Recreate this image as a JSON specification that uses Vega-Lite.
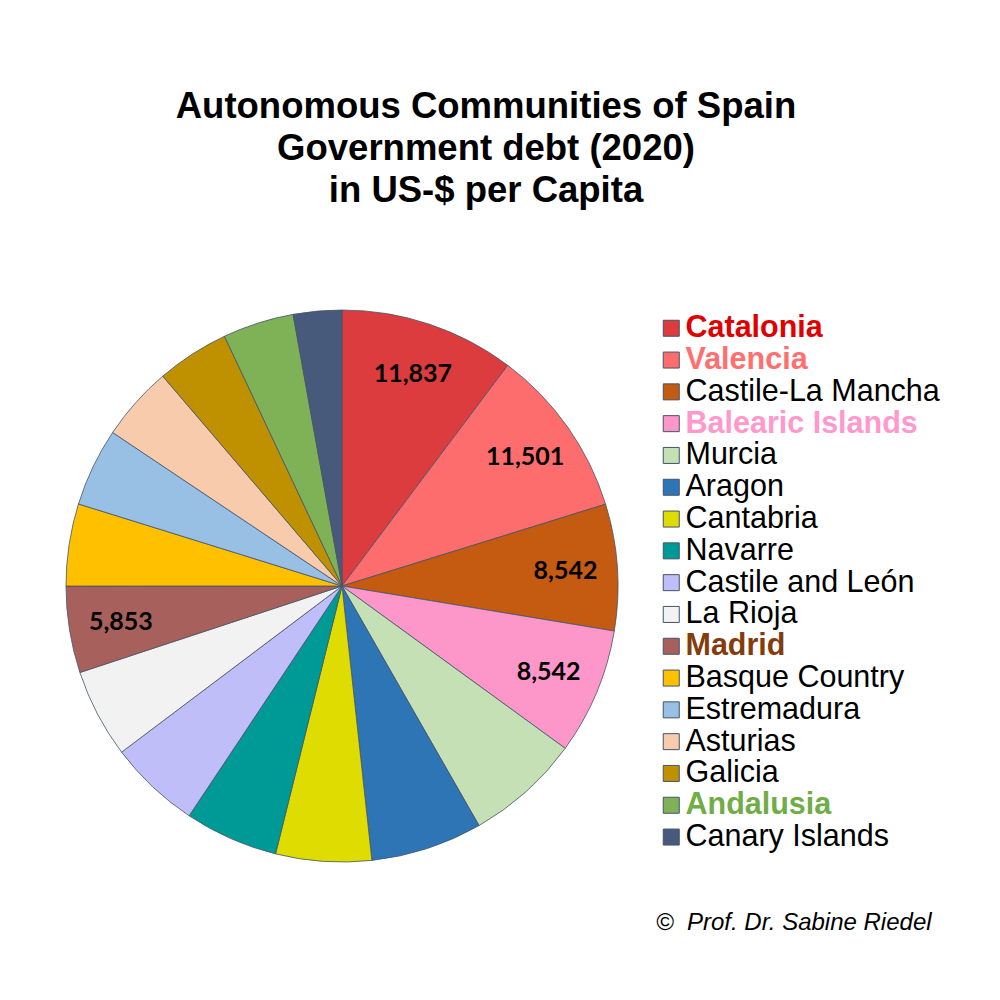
{
  "$schema": "https://vega.github.io/schema/vega-lite/v6.json",
  "autosize": "none",
  "width": 552,
  "height": 552,
  "padding": {"left": 66, "top": 310, "right": 382, "bottom": 138},
  "background": "white",
  "title": {
    "text": ["Autonomous Communities of Spain", "Government debt (2020)", "in US-$ per Capita"],
    "font": "Liberation Sans",
    "fontSize": 36.5,
    "fontWeight": "bold",
    "color": "#000000",
    "lineHeight": 42,
    "anchor": "middle",
    "frame": "group",
    "dx": 144,
    "offset": 62,
    "baseline": "bottom"
  },
  "data": {
    "values": [
      {"rank": 1, "region": "Catalonia", "value": 11837},
      {"rank": 2, "region": "Valencia", "value": 11501},
      {"rank": 3, "region": "Castile-La Mancha", "value": 8542},
      {"rank": 4, "region": "Balearic Islands", "value": 8542},
      {"rank": 5, "region": "Murcia", "value": 7764},
      {"rank": 6, "region": "Aragon", "value": 7555},
      {"rank": 7, "region": "Cantabria", "value": 6464},
      {"rank": 8, "region": "Navarre", "value": 6320},
      {"rank": 9, "region": "Castile and León", "value": 6207},
      {"rank": 10, "region": "La Rioja", "value": 6015},
      {"rank": 11, "region": "Madrid", "value": 5853},
      {"rank": 12, "region": "Basque Country", "value": 5550},
      {"rank": 13, "region": "Estremadura", "value": 5293},
      {"rank": 14, "region": "Asturias", "value": 5037},
      {"rank": 15, "region": "Galicia", "value": 4908},
      {"rank": 16, "region": "Andalusia", "value": 4812},
      {"rank": 17, "region": "Canary Islands", "value": 3272}
    ]
  },
  "encoding": {
    "theta": {"field": "value", "type": "quantitative", "stack": true},
    "order": {"field": "rank", "type": "quantitative"},
    "color": {
      "field": "region",
      "type": "nominal",
      "scale": {
        "domain": ["Catalonia", "Valencia", "Castile-La Mancha", "Balearic Islands", "Murcia", "Aragon", "Cantabria", "Navarre", "Castile and León", "La Rioja", "Madrid", "Basque Country", "Estremadura", "Asturias", "Galicia", "Andalusia", "Canary Islands"],
        "range": ["#dd3c3e", "#fe6d6d", "#c55a11", "#fe97c9", "#c5e0b4", "#2e75b6", "#dedc00", "#009a96", "#bfbef8", "#f2f2f2", "#a8605d", "#ffc000", "#98bfe4", "#f8cbad", "#bf9000", "#7fb257", "#485a7c"]
      },
      "legend": {
        "orient": "none",
        "legendX": 590,
        "legendY": 3,
        "padding": 0,
        "title": "\u00a9\u00a0 Prof. Dr. Sabine Riedel",
        "titleOrient": "bottom",
        "titleFont": "Liberation Sans",
        "titleFontSize": 24,
        "titleFontStyle": "italic",
        "titleFontWeight": "normal",
        "titleColor": "#000000",
        "titlePadding": 58,
        "titleAnchor": "start",
        "titleLimit": 400,
        "symbolType": "square",
        "symbolSize": 256,
        "symbolStrokeColor": "#44546a",
        "symbolStrokeWidth": 1,
        "symbolOpacity": 1,
        "labelFont": "Liberation Sans",
        "labelFontSize": 30.5,
        "labelOffset": -1,
        "labelLimit": 400,
        "rowPadding": 0.8,
        "encode": {
          "labels": {
            "update": {
              "fill": {"signal": "datum.label === 'Catalonia' ? '#e00000' : datum.label === 'Valencia' ? '#ff6f6f' : datum.label === 'Balearic Islands' ? '#ff99cc' : datum.label === 'Madrid' ? '#843c0c' : datum.label === 'Andalusia' ? '#70ad47' : '#000000'"},
              "fontWeight": {"signal": "indexof(['Catalonia','Valencia','Balearic Islands','Madrid','Andalusia'], datum.label) >= 0 ? 'bold' : 'normal'"}
            }
          }
        }
      }
    }
  },
  "layer": [
    {
      "mark": {"type": "arc", "outerRadius": 276, "stroke": "#44546a", "strokeWidth": 0.8}
    },
    {
      "mark": {"type": "text", "radius": 224, "font": "Lato", "fontSize": 25, "fontWeight": "bold", "color": "#000000", "align": "center", "baseline": "middle"},
      "encoding": {
        "color": {"value": "#000000"},
        "text": {
          "condition": {"test": "indexof(['Catalonia','Valencia','Castile-La Mancha','Balearic Islands','Madrid'], datum.region) >= 0", "field": "value", "type": "quantitative", "format": ","},
          "value": ""
        }
      }
    }
  ]
}
